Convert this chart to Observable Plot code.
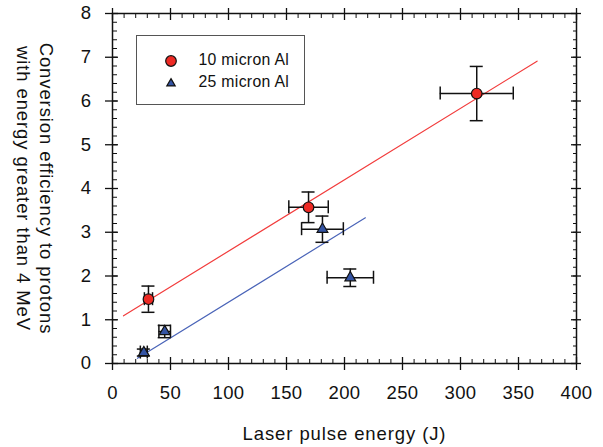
<!DOCTYPE html>
<html><head><meta charset="utf-8">
<script src="https://cdn.jsdelivr.net/npm/d3@7"></script>
<script src="https://cdn.jsdelivr.net/npm/@observablehq/plot@0.6"></script>
<style>
body{margin:0;background:#fff}
#wrap{position:relative;width:603px;height:447px;font-family:"Liberation Sans",Arial,sans-serif}
#legend{position:absolute;left:135.5px;top:35px;width:169px;height:70px;border:1px solid #555;box-sizing:border-box;background:#fff}
#legend .row{position:absolute;left:0;font-size:15.8px;letter-spacing:0.3px;color:#111;white-space:nowrap}
#legend svg{position:absolute}
#wrap svg [aria-label="text"]{letter-spacing:0.9px}
#wrap svg [aria-label$="tick label"]{letter-spacing:0.4px}
</style>
</head><body>
<div id="wrap"></div>
<script>
// Data
const seriesNames = ["10 micron Al", "25 micron Al"];
const energy10 = [31, 169, 314];
const eff10 = [1.47, 3.57, 6.17];
const energyErr10 = [3.5, 17, 31.5];
const effErr10 = [0.3, 0.35, 0.62];

const energy25 = [27, 45, 181, 205];
const eff25 = [0.25, 0.73, 3.07, 1.96];
const energyErr25 = [3, 5, 18, 20];
const effErr25 = [0.08, 0.14, 0.3, 0.2];

// fitted lines (endpoints)
const fitX10 = [9.5, 366];
const fitY10 = [1.09, 6.91];
const fitX25 = [21.5, 218];
const fitY25 = [0.12, 3.33];

const xMajor = [0, 50, 100, 150, 200, 250, 300, 350, 400];
const xMinor = d3.range(0, 401, 10);
const yMajor = [0, 1, 2, 3, 4, 5, 6, 7, 8];
const yMinor = d3.range(0, 8.001, 0.2).map(v => +v.toFixed(1));

const xTitle = "Laser pulse energy (J)";
const yTitle1 = "Conversion efficiency to protons";
const yTitle2 = "with energy greater than 4 MeV";

const redFill = "#ee2a24", blueFill = "#3454a4";
const redLine = "#f23c3c", blueLine = "#4a64b8";

const pts10 = energy10.map((x, i) => ({x, y: eff10[i], ex: energyErr10[i], ey: effErr10[i]}));
const pts25 = energy25.map((x, i) => ({x, y: eff25[i], ex: energyErr25[i], ey: effErr25[i]}));
const allPts = pts10.concat(pts25);
const fit10 = fitX10.map((x, i) => ({x, y: fitY10[i]}));
const fit25 = fitX25.map((x, i) => ({x, y: fitY25[i]}));

const cap = 6.5;
const errMarks = [
  Plot.ruleX(allPts, {x: "x", y1: d => d.y - d.ey, y2: d => d.y + d.ey, stroke: "#111", strokeWidth: 1.5}),
  Plot.ruleY(allPts, {y: "y", x1: d => d.x - d.ex, x2: d => d.x + d.ex, stroke: "#111", strokeWidth: 1.5}),
  Plot.ruleY(allPts, {y: d => d.y + d.ey, x1: "x", x2: "x", insetLeft: -cap, insetRight: -cap, stroke: "#111", strokeWidth: 1.5}),
  Plot.ruleY(allPts, {y: d => d.y - d.ey, x1: "x", x2: "x", insetLeft: -cap, insetRight: -cap, stroke: "#111", strokeWidth: 1.5}),
  Plot.ruleX(allPts, {x: d => d.x - d.ex, y1: "y", y2: "y", insetTop: -cap, insetBottom: -cap, stroke: "#111", strokeWidth: 1.5}),
  Plot.ruleX(allPts, {x: d => d.x + d.ex, y1: "y", y2: "y", insetTop: -cap, insetBottom: -cap, stroke: "#111", strokeWidth: 1.5})
];

const plot = Plot.plot({
  width: 603, height: 447,
  marginLeft: 112, marginRight: 27, marginTop: 13, marginBottom: 84,
  style: {fontFamily: '"Liberation Sans", Arial, sans-serif', fontSize: "18.5px", color: "#111", background: "#fff"},
  x: {domain: [0, 400]},
  y: {domain: [0, 8]},
  marks: [
    Plot.line(fit10, {x: "x", y: "y", stroke: redLine, strokeWidth: 1.2}),
    Plot.line(fit25, {x: "x", y: "y", stroke: blueLine, strokeWidth: 1.2}),
    ...errMarks,
    Plot.dot(pts10, {x: "x", y: "y", r: 5.3, symbol: "circle", fill: redFill, stroke: "#111", strokeWidth: 1.2}),
    Plot.dot(pts25, {x: "x", y: "y", r: 4.0, symbol: "triangle", fill: blueFill, stroke: "#111", strokeWidth: 1.2}),
    // bottom axis
    Plot.axisX({anchor: "bottom", ticks: xMajor, tickSize: 7, tickPadding: 15, label: null, tickFormat: d => String(d), stroke: "#111", strokeWidth: 1.3}),
    Plot.axisX({anchor: "bottom", ticks: xMajor, tickSize: -6, text: null, label: null, stroke: "#111", strokeWidth: 1.3}),
    Plot.axisX({anchor: "bottom", ticks: xMinor, tickSize: -4, text: null, label: null, stroke: "#111", strokeWidth: 1}),
    // top axis
    Plot.axisX({anchor: "top", ticks: xMajor, tickSize: 6, text: null, label: null, stroke: "#111", strokeWidth: 1.3}),
    Plot.axisX({anchor: "top", ticks: xMajor, tickSize: -6, text: null, label: null, stroke: "#111", strokeWidth: 1.3}),
    Plot.axisX({anchor: "top", ticks: xMinor, tickSize: -4, text: null, label: null, stroke: "#111", strokeWidth: 1}),
    // left axis
    Plot.axisY({anchor: "left", ticks: yMajor, tickSize: 7, tickPadding: 14, label: null, tickFormat: d => String(d), stroke: "#111", strokeWidth: 1.3}),
    Plot.axisY({anchor: "left", ticks: yMajor, tickSize: -6, text: null, label: null, stroke: "#111", strokeWidth: 1.3}),
    Plot.axisY({anchor: "left", ticks: yMinor, tickSize: -5, text: null, label: null, stroke: "#111", strokeWidth: 1}),
    // right axis
    Plot.axisY({anchor: "right", ticks: yMajor, tickSize: 4, text: null, label: null, stroke: "#111", strokeWidth: 1.3}),
    Plot.axisY({anchor: "right", ticks: yMajor, tickSize: -6, text: null, label: null, stroke: "#111", strokeWidth: 1.3}),
    Plot.axisY({anchor: "right", ticks: yMinor, tickSize: -4, text: null, label: null, stroke: "#111", strokeWidth: 1}),
    Plot.frame({stroke: "#111", strokeWidth: 1.5}),
    // titles
    Plot.text([xTitle], {text: d => d, frameAnchor: "bottom", lineAnchor: "bottom", dy: 76, fontSize: 18.5, fill: "#111"}),
    Plot.text([yTitle1], {text: d => d, frameAnchor: "left", rotate: 90, textAnchor: "middle", lineAnchor: "middle", dx: -67, fontSize: 18.5, fill: "#111"}),
    Plot.text([yTitle2], {text: d => d, frameAnchor: "left", rotate: 90, textAnchor: "middle", lineAnchor: "middle", dx: -90, fontSize: 18.5, fill: "#111"})
  ]
});
const wrap = document.getElementById("wrap");
wrap.appendChild(plot);

// legend (HTML overlay)
const legend = document.createElement("div");
legend.id = "legend";
const legendSyms = [
  `<circle cx="8" cy="8" r="5.3" fill="${redFill}" stroke="#111" stroke-width="1.2"/>`,
  `<path d="${d3.symbol(d3.symbolTriangle2, Math.PI * 4.0 * 4.0)()}" transform="translate(8,8.5)" fill="${blueFill}" stroke="#111" stroke-width="1.2"/>`
];
seriesNames.forEach((name, i) => {
  const cy = 25 + i * 21.5;
  const svg = document.createElementNS("http://www.w3.org/2000/svg", "svg");
  svg.setAttribute("width", 16); svg.setAttribute("height", 16);
  svg.style.left = (34.5 - 8) + "px"; svg.style.top = (cy - 8) + "px";
  svg.innerHTML = legendSyms[i];
  legend.appendChild(svg);
  const row = document.createElement("div");
  row.className = "row";
  row.style.left = "62px";
  row.style.top = (cy - 10) + "px";
  row.textContent = name;
  legend.appendChild(row);
});
wrap.appendChild(legend);
</script>
</body></html>
